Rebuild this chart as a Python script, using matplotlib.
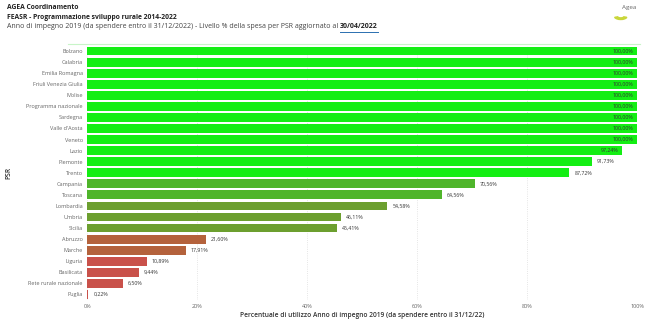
import matplotlib
matplotlib.use("Agg")
import matplotlib.pyplot as plt
import matplotlib.ticker as ticker
from matplotlib.patches import Wedge

plt.rcParams['font.family'] = ['Open Sans', 'DejaVu Sans']

# Percentuale di utilizzo per PSR
regioni = ["Bolzano", "Calabria", "Emilia Romagna", "Friuli Venezia Giulia", "Molise",
           "Programma nazionale", "Sardegna", "Valle d'Aosta", "Veneto", "Lazio",
           "Piemonte", "Trento", "Campania", "Toscana", "Lombardia", "Umbria",
           "Sicilia", "Abruzzo", "Marche", "Liguria", "Basilicata",
           "Rete rurale nazionale", "Puglia"]
valori = [100.0, 100.0, 100.0, 100.0, 100.0, 100.0, 100.0, 100.0, 100.0, 97.24,
          91.73, 87.72, 70.56, 64.56, 54.58, 46.11, 45.41, 21.60, 17.91, 10.89,
          9.44, 6.50, 0.22]
colori = ["#14ee14"] * 12 + ["#4fb52b"] * 2 + ["#6c9f2f"] * 3 + ["#b4623c"] * 2 + ["#c9514a"] * 4
x_ticks = [0, 20, 40, 60, 80, 100]


def fmt_pct(v):
    return f"{v:.2f}%".replace(".", ",")


fig = plt.figure(figsize=(6.5, 3.25), dpi=100)
ax = fig.add_axes([0.134, 0.077, 0.846, 0.783])

y = range(len(regioni))
ax.barh(y, valori, height=0.8, color=colori)
ax.set_ylim(len(regioni) - 0.5, -0.5)
ax.set_xlim(0, 100)

for i, v in enumerate(valori):
    if v > 95:
        ax.text(v - 0.6, i, fmt_pct(v), ha="right", va="center", fontsize=3.8, color="#333333")
    else:
        ax.text(v + 0.9, i, fmt_pct(v), ha="left", va="center", fontsize=3.8, color="#333333")

ax.set_yticks(list(y))
ax.set_yticklabels(regioni, fontsize=4, color="#666666")
ax.set_xticks(x_ticks)
ax.xaxis.set_major_formatter(ticker.FuncFormatter(lambda v, p: f"{v:.0f}%"))
ax.tick_params(axis="x", labelsize=4, colors="#666666", length=0, pad=3)
ax.tick_params(axis="y", length=0, pad=3)
ax.grid(axis="x", color="#dddddd", linestyle=":", linewidth=0.6)
ax.set_axisbelow(True)
for s in ax.spines.values():
    s.set_visible(False)

ax.set_xlabel("Percentuale di utilizzo Anno di impegno 2019 (da spendere entro il 31/12/22)",
              fontsize=4.8, color="#333333", fontweight="semibold", labelpad=2)
ax.set_ylabel("PSR", fontsize=4.8, color="#333333", fontweight="semibold")
ax.yaxis.set_label_coords(-0.135, 0.5)

# intestazione
fig.text(0.011, 0.988, "AGEA Coordinamento", fontsize=4.9, fontweight="bold", color="#222222", va="top")
fig.text(0.011, 0.958, "FEASR - Programmazione sviluppo rurale 2014-2022", fontsize=4.9,
         fontweight="bold", color="#222222", va="top")
t1 = fig.text(0.011, 0.928, "Anno di impegno 2019 (da spendere entro il 31/12/2022) - Livello % della spesa per PSR aggiornato al ",
              fontsize=5.0, color="#444444", va="top")
fig.canvas.draw()
r = fig.canvas.get_renderer()
bb = t1.get_window_extent(r).transformed(fig.transFigure.inverted())
t2 = fig.text(bb.x1, 0.928, "30/04/2022", fontsize=5.0, fontweight="bold", color="#222222", va="top")
bb2 = t2.get_window_extent(r).transformed(fig.transFigure.inverted())
fig.add_artist(plt.Line2D([bb2.x0, bb2.x1], [bb2.y0 - 0.004, bb2.y0 - 0.004],
                          transform=fig.transFigure, color="#2a6fb0", linewidth=0.7))

# linea sotto l'intestazione
fig.add_artist(plt.Line2D([0.105, 0.985], [0.866, 0.866], transform=fig.transFigure,
                          color="#c8f5c8", linewidth=0.8))

# logo
fig.text(0.968, 0.985, "Agea", fontsize=4.5, color="#666666", va="top", ha="center")
fig.add_artist(Wedge((0.955, 0.950), 0.010, 200, 340, width=0.005, transform=fig.transFigure,
                     color="#c9d63a"))

fig.savefig("out.png", dpi=100)
